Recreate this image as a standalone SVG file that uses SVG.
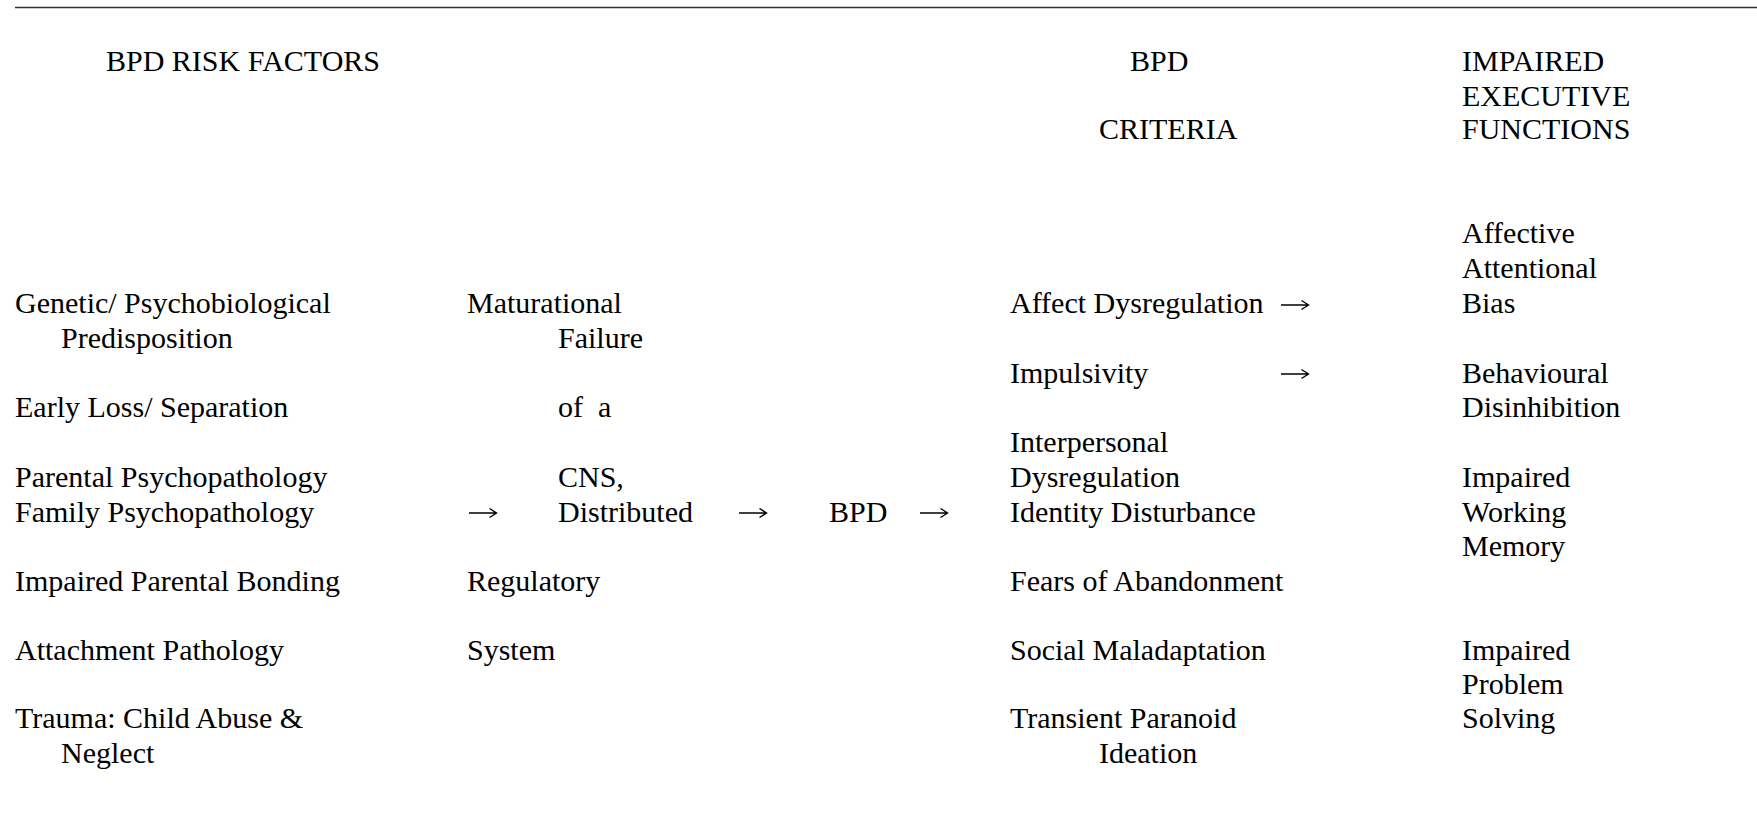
<svg xmlns="http://www.w3.org/2000/svg" width="1757" height="834" viewBox="0 0 1757 834">
<style>
text{font-family:"Liberation Serif","Times New Roman",serif;font-size:30px;fill:#000}
.arr{fill:none;stroke:#000;stroke-width:1.4;stroke-linecap:butt;stroke-linejoin:miter}
</style>
<defs>
<path id="arrow" class="arr" d="M0,0 H27 M20.5,-4.5 L27.5,0 L20.5,4.5"/>
</defs>
<rect width="1757" height="834" fill="#fff"/>
<line x1="15" y1="7.5" x2="1757" y2="7.5" stroke="#333" stroke-width="1.5"/>
<g id="hdr-risk"><text x="106" y="71">BPD RISK FACTORS</text></g>
<g id="hdr-criteria"><text x="1130" y="71">BPD</text><text x="1099" y="139">CRITERIA</text></g>
<g id="hdr-exec"><text x="1462" y="71">IMPAIRED</text><text x="1462" y="106">EXECUTIVE</text><text x="1462" y="139">FUNCTIONS</text></g>
<g id="risk-genetic"><text x="15" y="313">Genetic/ Psychobiological</text><text x="61" y="348">Predisposition</text></g>
<g id="risk-early"><text x="15" y="417">Early Loss/ Separation</text></g>
<g id="risk-parental"><text x="15" y="487">Parental Psychopathology</text></g>
<g id="risk-family"><text x="15" y="522">Family Psychopathology</text></g>
<g id="risk-bonding"><text x="15" y="591">Impaired Parental Bonding</text></g>
<g id="risk-attach"><text x="15" y="660">Attachment Pathology</text></g>
<g id="risk-trauma"><text x="15" y="728">Trauma: Child Abuse &amp;</text><text x="61" y="763">Neglect</text></g>
<g id="cns">
<text x="467" y="313">Maturational</text>
<text x="558" y="348">Failure</text>
<text x="558" y="417">of</text><text x="598" y="417">a</text>
<text x="558" y="487">CNS,</text>
<text x="558" y="522">Distributed</text>
<text x="467" y="591">Regulatory</text>
<text x="467" y="660">System</text>
</g>
<g id="bpd"><text x="829" y="522">BPD</text></g>
<g id="crit-affect"><text x="1010" y="313">Affect Dysregulation</text></g>
<g id="crit-impuls"><text x="1010" y="383">Impulsivity</text></g>
<g id="crit-interp"><text x="1010" y="452">Interpersonal</text><text x="1010" y="487">Dysregulation</text></g>
<g id="crit-identity"><text x="1010" y="522">Identity Disturbance</text></g>
<g id="crit-fears"><text x="1010" y="591">Fears of Abandonment</text></g>
<g id="crit-social"><text x="1010" y="660">Social Maladaptation</text></g>
<g id="crit-paranoid"><text x="1010" y="728">Transient Paranoid</text><text x="1099" y="763">Ideation</text></g>
<g id="ef-attention"><text x="1462" y="243">Affective</text><text x="1462" y="278">Attentional</text><text x="1462" y="313">Bias</text></g>
<g id="ef-behav"><text x="1462" y="383">Behavioural</text><text x="1462" y="417">Disinhibition</text></g>
<g id="ef-memory"><text x="1462" y="487">Impaired</text><text x="1462" y="522">Working</text><text x="1462" y="556">Memory</text></g>
<g id="ef-problem"><text x="1462" y="660">Impaired</text><text x="1462" y="694">Problem</text><text x="1462" y="728">Solving</text></g>
<g id="connectors">
<use href="#arrow" x="469" y="513"/>
<use href="#arrow" x="739" y="513"/>
<use href="#arrow" x="920" y="513"/>
<use href="#arrow" x="1281" y="305"/>
<use href="#arrow" x="1281" y="374"/>
</g>
</svg>
